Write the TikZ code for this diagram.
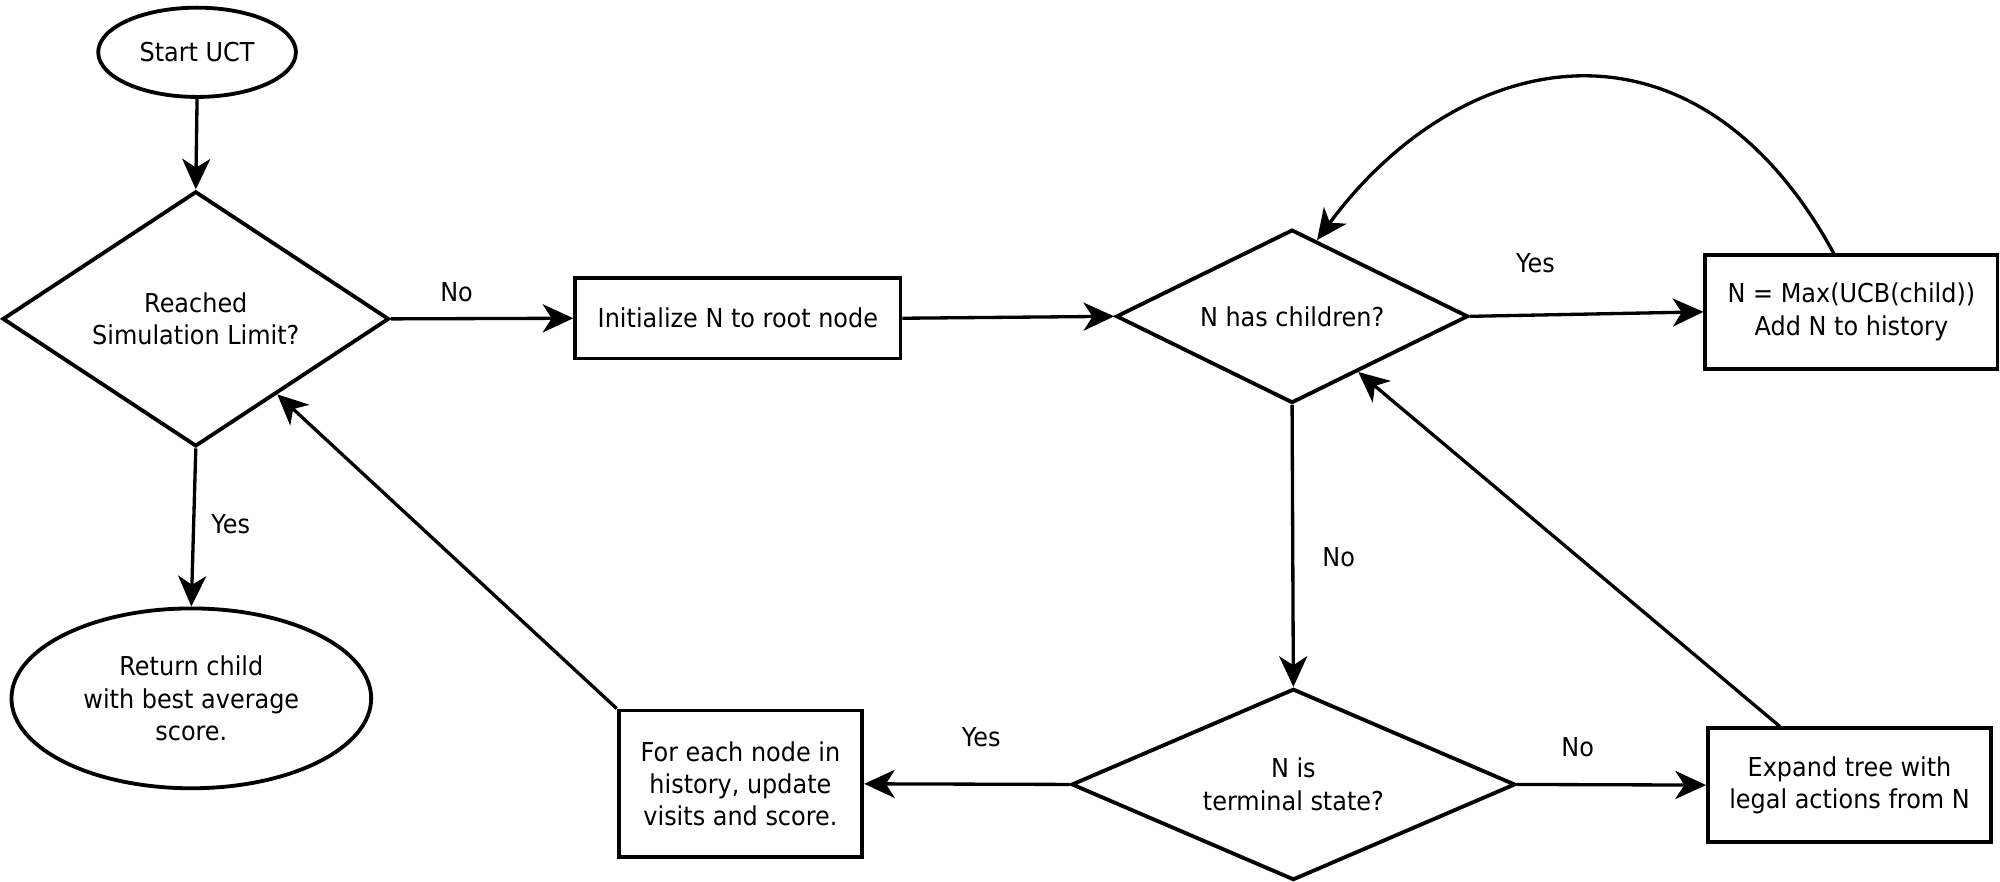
\documentclass[tikz,border=0pt]{standalone}
\usepackage{fontspec}
\setmainfont{DejaVu Sans}[FakeStretch=0.92]
\usetikzlibrary{shapes.geometric,arrows.meta,calc}
\begin{document}
\begin{tikzpicture}[x=0.5pt,y=-0.5pt,
  font=\fontsize{10.2}{12.7}\selectfont,
  base/.style={draw, line width=1.5pt, inner sep=0pt, align=center},
  term/.style={base, ellipse},
  dec/.style={base, diamond},
  proc/.style={base, rectangle},
  conn/.style={line width=1.3pt, -{Stealth[length=12pt,width=11pt,inset=3.5pt]}},
  lbl/.style={inner sep=0pt}]
\useasboundingbox (0,0) rectangle (1568,691);

\node[term, minimum width=77.5pt, minimum height=35pt] (start) at (154.5,41) {Start UCT};
\node[dec, shape aspect=1.515, minimum width=151.5pt, minimum height=100pt] (d1) at (153.5,250) {Reached\\Simulation Limit?};
\node[term, minimum width=141pt, minimum height=70.5pt] (ret) at (150,547.5) {Return child\\with best average\\score.};
\node[proc, minimum width=127.5pt, minimum height=31.5pt] (init) at (578.5,249.5) {Initialize N to root node};
\node[dec, shape aspect=2.03, minimum width=138pt, minimum height=68pt] (d2) at (1013,248) {N has children?};
\node[proc, minimum width=114.5pt, minimum height=44.5pt] (sel) at (1451.5,244.5) {N = Max(UCB(child))\\Add N to history};
\node[dec, shape aspect=2.32, minimum width=174pt, minimum height=75pt] (d3) at (1014,615) {N is\\terminal state?};
\node[proc, minimum width=95.5pt, minimum height=57.5pt] (upd) at (580.5,614.5) {For each node in\\history, update\\visits and score.};
\node[proc, minimum width=111pt, minimum height=44.5pt] (exp) at (1450,615.5) {Expand tree with\\legal actions from N};

\draw[conn] (start.south) -- (d1.north);
\draw[conn] (d1.east) -- node[lbl, pos=0.36, yshift=10.5pt] {No} (init.west);
\draw[conn] (init.east) -- (d2.west);
\draw[conn] (d2.east) -- node[lbl, pos=0.28, yshift=20.5pt] {Yes} (sel.west);
\draw[conn] (d2.south) -- node[lbl, pos=0.54, xshift=18pt] {No} (d3.north);
\draw[conn] (d3.west) -- node[lbl, pos=0.43, yshift=18.5pt] {Yes} (upd.east);
\draw[conn] (d3.east) -- node[lbl, pos=0.32, yshift=14.5pt] {No} (exp.west);
\draw[conn] (d1.south) -- node[lbl, pos=0.48, xshift=14.5pt] {Yes} (ret.north);
\draw[conn] (upd.north west) -- (d1);
\coordinate (expt) at ($(exp.north west)!0.257!(exp.north east)$);
\draw[conn] (expt) -- (d2);
\coordinate (selt) at ($(sel.north west)!0.44!(sel.north east)$);
\coordinate (d2t) at ($(d2.north)!0.14!(d2.east)$);
\draw[conn] (selt) .. controls (1328,-2) and (1145,36) .. (d2t);
\end{tikzpicture}
\end{document}
